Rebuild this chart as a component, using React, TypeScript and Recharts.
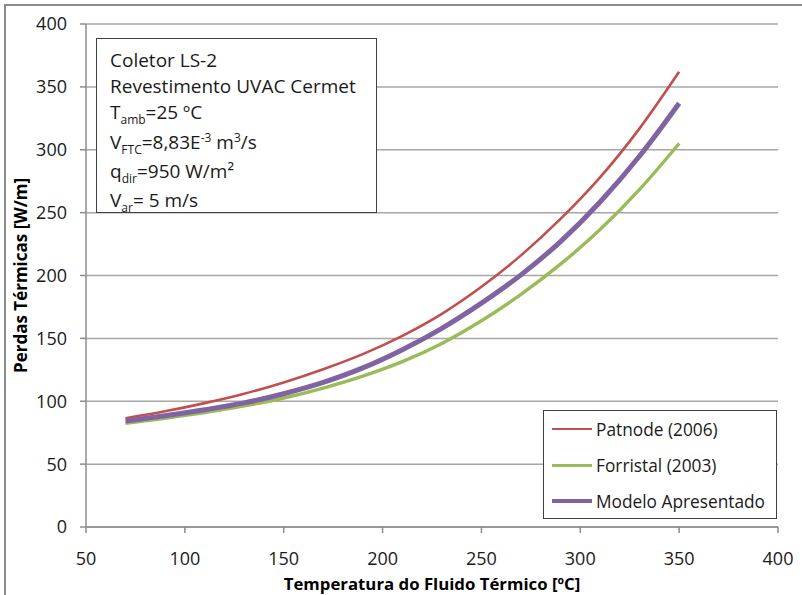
import React from "react";
import { CartesianGrid, Label, Line, LineChart, XAxis, YAxis } from "recharts";

// temperatura do fluido (°C) e perdas térmicas (W/m)
const temps = [70, 90, 110, 130, 150, 170, 190, 210, 230, 250, 270, 290, 310, 330, 350];
const patnode = [86.5, 92, 98.5, 106, 115, 125.5, 137.5, 152, 169.5, 191, 216, 245, 278, 317, 362];
const forristal = [82.5, 86.5, 91, 96.3, 102.6, 110.5, 120, 131.5, 146, 164, 185, 209, 236.5, 268.5, 305];
const modelo = [84.3, 88.5, 93.2, 98.7, 106, 115, 126.5, 141, 158, 178, 200.5, 227, 258.5, 295, 337];

const seriesNames = ["Patnode (2006)", "Forristal (2003)", "Modelo Apresentado"];
const xTicks = [50, 100, 150, 200, 250, 300, 350, 400];
const yTicks = [0, 50, 100, 150, 200, 250, 300, 350, 400];

const data = temps.map((t, i) => ({ t, patnode: patnode[i], forristal: forristal[i], modelo: modelo[i] }));

const keys = ["patnode", "forristal", "modelo"];
const colors = ["#C0504D", "#9BBB59", "#8064A2"];
const widths = [2.6, 3.4, 5];
const legendWidths = [2.5, 3, 3.5];

const font = "'Open Sans', sans-serif";
const tick = { fill: "#1a1a1a", fontSize: 18, fontFamily: font };
const axisLine = { stroke: "#8c8c8c", strokeWidth: 1.5 };

const subStyle: React.CSSProperties = { fontSize: 12, verticalAlign: "baseline", position: "relative", top: 5 };
const supStyle: React.CSSProperties = { fontSize: 12, verticalAlign: "baseline", position: "relative", top: -7 };

export default function App() {
  return (
    <div style={{ position: "absolute", left: 0, top: 0, width: 802, height: 595, overflow: "hidden", background: "#fff", fontFamily: font }}>
      <div style={{ position: "absolute", left: 4, top: 4, width: 820, height: 620, borderTop: "2px solid #8c8c8c", borderLeft: "2px solid #8c8c8c" }} />
      <LineChart width={802} height={595} data={data} margin={{ top: 24, right: 24, left: 0, bottom: 0 }}>
        <CartesianGrid vertical={false} stroke="#a6a6a6" strokeWidth={1.5} />
        <XAxis
          dataKey="t"
          type="number"
          domain={[50, 400]}
          ticks={xTicks}
          height={68}
          tick={tick}
          tickSize={6}
          tickMargin={19}
          axisLine={axisLine}
          tickLine={axisLine}
        >
          <Label
            value="Temperatura do Fluido Térmico [ºC]"
            position="insideBottom"
            offset={5}
            style={{ fontSize: 16.8, fontWeight: 700, fill: "#000", fontFamily: font }}
          />
        </XAxis>
        <YAxis
          type="number"
          domain={[0, 400]}
          ticks={yTicks}
          width={86}
          tick={tick}
          tickSize={6}
          tickMargin={13}
          axisLine={axisLine}
          tickLine={axisLine}
        >
          <Label
            value="Perdas Térmicas [W/m]"
            angle={-90}
            position="insideLeft"
            offset={21}
            style={{ textAnchor: "middle", fontSize: 17, fontWeight: 700, fill: "#000", fontFamily: font }}
          />
        </YAxis>
        {keys.map((k, i) => (
          <Line
            key={k}
            type="monotone"
            dataKey={k}
            name={seriesNames[i]}
            stroke={colors[i]}
            strokeWidth={widths[i]}
            dot={false}
            isAnimationActive={false}
          />
        ))}
      </LineChart>

      <div
        style={{
          position: "absolute",
          left: 96,
          top: 38,
          width: 281,
          height: 175,
          border: "1px solid #404040",
          boxSizing: "border-box",
          padding: "8px 0 0 13px",
          fontSize: 19,
          lineHeight: "26.2px",
          color: "#1a1a1a",
          background: "#fff",
        }}
      >
        <div>Coletor LS-2</div>
        <div>Revestimento UVAC Cermet</div>
        <div>
          T<span style={subStyle}>amb</span>=25 ºC
        </div>
        <div>
          V<span style={subStyle}>FTC</span>=8,83E<span style={supStyle}>-3</span> m<span style={supStyle}>3</span>/s
        </div>
        <div>
          q<span style={subStyle}>dir</span>=950 W/m²
        </div>
        <div>
          V<span style={subStyle}>ar</span>= 5 m/s
        </div>
      </div>

      <div
        style={{
          position: "absolute",
          left: 543,
          top: 410,
          width: 234,
          height: 109,
          border: "1px solid #404040",
          boxSizing: "border-box",
          background: "#fff",
        }}
      >
        {seriesNames.map((n, i) => (
          <div key={n} style={{ display: "flex", alignItems: "center", height: 36, fontSize: 17.3, color: "#1a1a1a" }}>
            <span style={{ display: "inline-block", marginLeft: 8, width: 40, height: legendWidths[i], background: colors[i], marginRight: 4 }} />
            {n}
          </div>
        ))}
      </div>
    </div>
  );
}
